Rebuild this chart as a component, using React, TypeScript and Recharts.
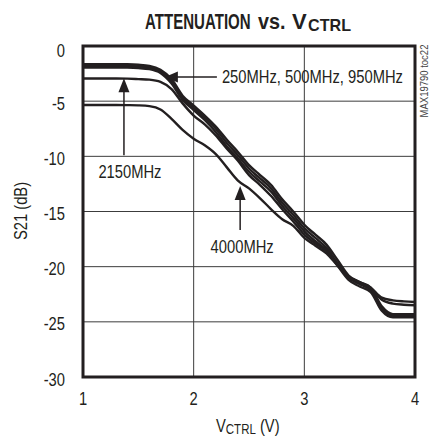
import React from "react";
import {
  CartesianGrid,
  Line,
  LineChart,
  ReferenceArea,
  ReferenceDot,
  XAxis,
  YAxis,
} from "recharts";

const INK = "#231f20";
const GRID = "#3c3c3c";
const SANS = "'Liberation Sans', Arial, Helvetica, sans-serif";
const SQUEEZE = 0.82; // the sheet uses a narrow Helvetica

// control voltage, V
const VCTRL = [
  1.0, 1.1, 1.2, 1.3, 1.4, 1.5, 1.6, 1.7, 1.8, 1.9, 2.0, 2.1, 2.2, 2.3, 2.4, 2.5,
  2.6, 2.7, 2.8, 2.9, 3.0, 3.1, 3.2, 3.3, 3.4, 3.5, 3.6, 3.7, 3.8, 3.9, 4.0,
];

// S21 in dB, one list per frequency
const S21_250 = [
  -1.65, -1.65, -1.65, -1.65, -1.66, -1.7, -1.8, -2.15, -3.0, -4.5, -5.4, -6.3, -7.3, -8.5, -9.6,
  -10.8, -11.7, -12.6, -13.9, -15.0, -16.2, -17.1, -18.0, -19.4, -20.8, -21.4, -21.9, -23.6, -24.3,
  -24.3, -24.3,
];
const S21_500 = [
  -1.8, -1.8, -1.8, -1.8, -1.81, -1.85, -1.95, -2.3, -3.2, -4.7, -5.6, -6.5, -7.5, -8.8, -9.9,
  -11.1, -12.0, -12.9, -14.2, -15.3, -16.5, -17.4, -18.3, -19.7, -21.0, -21.6, -22.1, -23.8, -24.45,
  -24.45, -24.45,
];
const S21_950 = [
  -1.95, -1.95, -1.95, -1.95, -1.96, -2.0, -2.1, -2.45, -3.4, -4.9, -5.8, -6.7, -7.8, -9.1, -10.2,
  -11.4, -12.3, -13.2, -14.5, -15.6, -16.8, -17.7, -18.5, -19.9, -21.2, -21.8, -22.3, -24.0, -24.6,
  -24.6, -24.6,
];
const S21_2150 = [
  -2.95, -2.95, -2.95, -2.95, -2.96, -3.0, -3.05, -3.25, -3.9, -5.2, -6.3, -7.1, -8.1, -9.3, -10.4,
  -11.7, -12.6, -13.6, -14.8, -15.9, -17.1, -17.9, -18.6, -19.8, -20.9, -21.5, -22.0, -23.0, -23.35,
  -23.45, -23.5,
];
const S21_4000 = [
  -5.35, -5.35, -5.35, -5.35, -5.36, -5.38, -5.45, -5.75, -6.6, -7.6, -8.4, -9.0, -9.8, -11.0, -12.2,
  -12.9, -13.8, -14.8, -15.7, -16.3, -17.4, -18.1, -18.8, -19.9, -20.9, -21.4, -21.9, -22.8, -23.05,
  -23.15, -23.2,
];

const SERIES = [
  { key: "f250", values: S21_250 },
  { key: "f500", values: S21_500 },
  { key: "f950", values: S21_950 },
  { key: "f2150", values: S21_2150 },
  { key: "f4000", values: S21_4000 },
];

const X_TICKS = [1, 2, 3, 4];
const Y_TICKS = [-30, -25, -20, -15, -10, -5, 0];

const data = VCTRL.map((v, i) => {
  const row: Record<string, number> = { v };
  SERIES.forEach((s) => (row[s.key] = s.values[i]));
  return row;
});

// narrow text: squeezed horizontally around its anchor point
function NText({ x, y, anchor = "start", size = 18, sx = SQUEEZE, rotate = 0, fill = INK, bold, children }: any) {
  return (
    <text
      transform={`translate(${x},${y}) rotate(${rotate}) scale(${sx},1)`}
      textAnchor={anchor}
      fontFamily={SANS}
      fontSize={size}
      fontWeight={bold ? "bold" : "normal"}
      fill={fill}
    >
      {children}
    </text>
  );
}

function XTick({ x, y, payload }: any) {
  return (
    <NText x={x} y={y + 28} anchor="middle">
      {payload.value}
    </NText>
  );
}

function YTick({ x, y, payload }: any) {
  // the top label sits a little lower on the sheet
  const dy = payload.value === 0 ? 11 : 8.5;
  return (
    <NText x={x - 18} y={y + dy} anchor="end">
      {payload.value}
    </NText>
  );
}

// arrow pointing left, label to its right
function LeftArrow({ cx, cy }: any) {
  return (
    <g>
      <path d={`M${cx},${cy} l13,-5.5 l0,11 z`} fill={INK} />
      <line x1={cx + 12} y1={cy} x2={cx + 52} y2={cy} stroke={INK} strokeWidth={1.5} />
      <NText x={cx + 57} y={cy + 6.5}>
        250MHz, 500MHz, 950MHz
      </NText>
    </g>
  );
}

function UpArrow({ cx, cy, shaft, label, dx }: any) {
  return (
    <g>
      <path d={`M${cx},${cy} l-5.5,14 l11,0 z`} fill={INK} />
      <line x1={cx} y1={cy + 13} x2={cx} y2={cy + shaft} stroke={INK} strokeWidth={1.5} />
      <NText x={cx + dx} y={cy + shaft + 23} anchor="middle">
        {label}
      </NText>
    </g>
  );
}

export default function App() {
  return (
    <div style={{ position: "absolute", left: 0, top: 0, width: 431, height: 436, background: "#fff" }}>
      <LineChart width={431} height={436} data={data} margin={{ top: 46, right: 16, bottom: 0, left: 0 }}>
        <CartesianGrid stroke={GRID} strokeWidth={1} />
        <XAxis
          type="number"
          dataKey="v"
          domain={[1, 4]}
          ticks={X_TICKS}
          height={59}
          tickSize={0}
          tickMargin={0}
          axisLine={false}
          tick={<XTick />}
        />
        <YAxis
          type="number"
          domain={[-30, 0]}
          ticks={Y_TICKS}
          width={83}
          tickSize={0}
          tickMargin={0}
          axisLine={false}
          tick={<YTick />}
        />
        {SERIES.map((s) => (
          <Line
            key={s.key}
            dataKey={s.key}
            type="monotone"
            stroke={INK}
            strokeWidth={2.4}
            dot={false}
            isAnimationActive={false}
          />
        ))}
        <ReferenceArea x1={1} x2={4} y1={-30} y2={0} fill="none" stroke={INK} strokeWidth={3} />
        <ReferenceDot x={1.74} y={-2.8} r={0} ifOverflow="visible" shape={<LeftArrow />} />
        <ReferenceDot
          x={1.37}
          y={-2.93}
          r={0}
          ifOverflow="visible"
          shape={<UpArrow shaft={77} label="2150MHz" dx={6} />}
        />
        <ReferenceDot
          x={2.42}
          y={-12.7}
          r={0}
          ifOverflow="visible"
          shape={<UpArrow shaft={44} label="4000MHz" dx={2} />}
        />
      </LineChart>
      <svg
        width={431}
        height={436}
        style={{ position: "absolute", left: 0, top: 0, pointerEvents: "none" }}
      >
        <NText x={145} y={28.5} size={22} sx={0.685} bold>
          ATTENUATION
        </NText>
        <NText x={258} y={28.5} size={22} sx={0.9} bold>
          vs.
        </NText>
        <NText x={292} y={28.5} size={22} sx={1} bold>
          V
        </NText>
        <NText x={308} y={31} size={17} sx={0.95} bold>
          CTRL
        </NText>
        <text
          transform={`translate(216,431.5) scale(${SQUEEZE},1)`}
          fontFamily={SANS}
          fontSize={18}
          fill={INK}
        >
          V
          <tspan dy={2} fontSize={14}>
            CTRL
          </tspan>
          <tspan dy={-2}> (V)</tspan>
        </text>
        <NText x={27} y={211} rotate={-90} anchor="middle">
          S21 (dB)
        </NText>
        <NText x={428} y={81} rotate={-90} anchor="middle" size={10} sx={0.95} fill="#444">
          MAX19790 toc22
        </NText>
      </svg>
    </div>
  );
}
